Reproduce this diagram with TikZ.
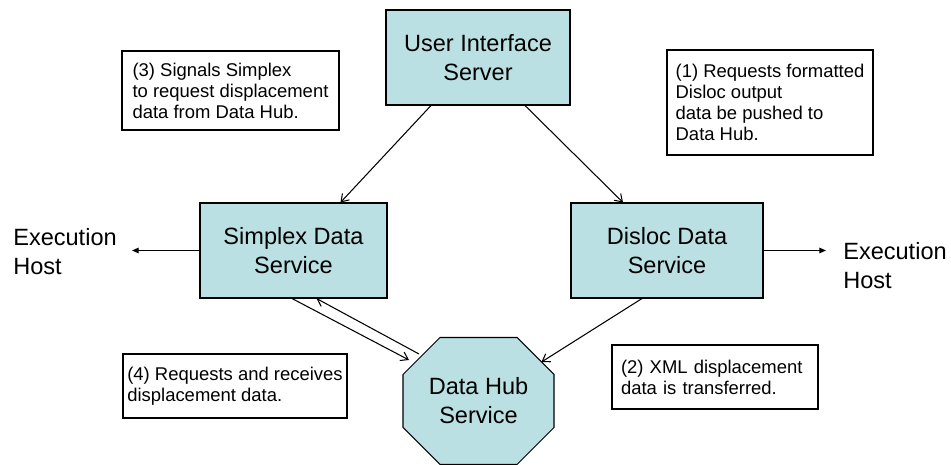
\documentclass[tikz,border=0pt]{standalone}
\usepackage{fontspec}
\setmainfont{Liberation Sans}
\usetikzlibrary{arrows.meta,calc}
\definecolor{servicefill}{RGB}{187,224,227}
\begin{document}
\begin{tikzpicture}[
    x=0.02cm, y=-0.02cm,
    openarrow/.style={draw, line width=0.6pt, -{Straight Barb[length=1.4mm,width=1.9mm]}},
    hostarrow/.style={draw, line width=0.6pt, -{Triangle[length=1.3mm,width=1.1mm]}},
    service/.style={rectangle, draw, fill=servicefill, line width=0.6pt,
        minimum width=3.74cm, minimum height=1.9cm, align=center,
        font=\fontsize{13.4}{16.5}\selectfont},
    hubshape/.style={draw, fill=servicefill, line width=0.6pt},
    hubtext/.style={align=center, font=\fontsize{13.4}{16.5}\selectfont},
    host/.style={align=left, inner ysep=0pt, font=\fontsize{13.4}{16.5}\selectfont},
    note/.style={rectangle, draw, line width=0.6pt, align=left, inner sep=0pt,
        font=\fontsize{10.5}{12}\selectfont}
]
\useasboundingbox (0,0) rectangle (951,465);
\node (UIServer) [service, minimum width=3.68cm] at (478,57.5) {User Interface\\Server};
\node (SimplexService) [service] at (293.5,250.5) {Simplex Data\\Service};
\node (DislocService) [service, minimum width=3.84cm] at (667,250.5) {Disloc Data\\Service};
\coordinate (HubCentre) at (478.5,401);
\filldraw [hubshape, shift={(HubCentre)}] (-38.5,-63.5) -- (38.5,-63.5) -- (75.5,-26.5)
  -- (75.5,26.5) -- (38.5,63.5) -- (-38.5,63.5) -- (-75.5,26.5) -- (-75.5,-26.5) -- cycle;
\node (DataHub) [hubtext] at (HubCentre) {Data Hub\\Service};
\node (HostLeft) [host, inner xsep=0.3cm] at (65,252) {Execution\\Host};
\node (HostRight) [host, inner xsep=0.34cm] at (895,265.5) {Execution\\Host};
\node (Note03) [note, minimum width=4.34cm, minimum height=1.58cm]
  at (230.5,90.5) {(3) Signals Simplex\\to request displacement\\data from Data Hub.};
\node (Note01) [note, minimum width=4.12cm, minimum height=2.1cm]
  at (770,102.5) {(1) Requests formatted\\Disloc output\\data be pushed to\\Data Hub.};
\node (Note04) [note, minimum width=4.48cm, minimum height=1.28cm]
  at (235,386) {(4) Requests and receives\\displacement data.};
\node (Note02) [note, minimum width=4.12cm, minimum height=1.28cm, text width=3.76cm]
  at (715,377) {(2) XML displacement\\data is transferred.};
\draw [openarrow] ([xshift=-0.94cm]UIServer.south) -- ([xshift=0.94cm]SimplexService.north);
\draw [openarrow] ([xshift=0.94cm]UIServer.south) -- ([xshift=-0.88cm]DislocService.north);
\draw [openarrow] ([xshift=-0.5cm]DislocService.south) -- ($(HubCentre)+(63,-39)$);
\draw [openarrow] ([xshift=-0.03cm]SimplexService.south) -- ($(HubCentre)+(-69.5,-41)$);
\draw [openarrow] ($(HubCentre)+(-59.5,-47)$) -- ([xshift=0.46cm]SimplexService.south);
\draw [hostarrow] (SimplexService.west) -- (SimplexService.west -| HostLeft.east);
\draw [hostarrow] (DislocService.east) -- (DislocService.east -| HostRight.west);
\end{tikzpicture}
\end{document}
